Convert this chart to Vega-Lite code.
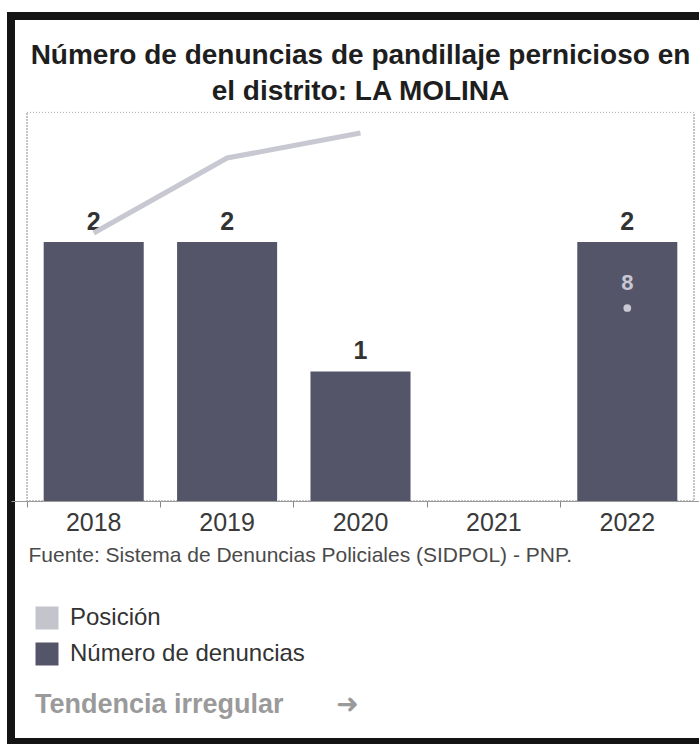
{
  "$schema": "https://vega.github.io/schema/vega-lite/v6.json",
  "autosize": "none",
  "width": 699,
  "height": 726,
  "padding": {"left": 11, "top": 16, "right": -11, "bottom": 2},
  "background": "white",
  "title": {
    "text": ["Número de denuncias de pandillaje pernicioso en", "el distrito: LA MOLINA"],
    "font": "Liberation Sans",
    "fontSize": 28,
    "fontWeight": "bold",
    "color": "#1e1e1e",
    "lineHeight": 36,
    "anchor": "middle",
    "frame": "group",
    "offset": -90
  },
  "config": {
    "font": "Liberation Sans",
    "view": {"stroke": "#141414", "strokeWidth": 8, "fill": "white"}
  },
  "data": {
    "values": [
      {"anio": "2018", "denuncias": 2, "posicion": 5},
      {"anio": "2019", "denuncias": 2, "posicion": 2},
      {"anio": "2020", "denuncias": 1, "posicion": 1},
      {"anio": "2021", "denuncias": null, "posicion": null},
      {"anio": "2022", "denuncias": 2, "posicion": 8}
    ]
  },
  "encoding": {
    "x": {
      "field": "anio",
      "type": "ordinal",
      "scale": {"domain": ["2018", "2019", "2020", "2021", "2022"], "paddingInner": 0, "paddingOuter": 0.12},
      "axis": {
        "title": "Fuente: Sistema de Denuncias Policiales (SIDPOL) - PNP.",
        "titleFont": "Liberation Sans",
        "titleFontSize": 21,
        "titleFontWeight": "normal",
        "titleColor": "#4a4a4a",
        "titleAnchor": "start",
        "titleAlign": "left",
        "titleX": 17,
        "titlePadding": 9,
        "labelAngle": 0,
        "labelFont": "Liberation Sans",
        "labelFontSize": 25,
        "labelColor": "#3a3a3a",
        "labelPadding": 3,
        "tickSize": 6,
        "tickColor": "#888888",
        "domainColor": "#999999",
        "bandPosition": 0,
        "offset": -241
      }
    }
  },
  "layer": [
    {
      "layer": [
        {
          "mark": {"type": "rect", "fill": "transparent", "stroke": "#b4b4b4", "strokeWidth": 1, "strokeDash": [1, 2]},
          "encoding": {
            "x": {"datum": "2018", "bandPosition": 0},
            "x2": {"datum": "2022", "bandPosition": 1},
            "y": {"datum": 3, "type": "quantitative", "scale": {"domain": [-1.861, 3.745], "nice": false, "zero": false}, "axis": null},
            "y2": {"datum": 0}
          }
        },
        {
          "mark": {"type": "bar", "width": {"band": 0.75}},
          "transform": [{"filter": "datum.denuncias != null"}],
          "encoding": {
            "y": {"field": "denuncias", "type": "quantitative", "scale": {"domain": [-1.861, 3.745], "nice": false, "zero": false}, "axis": null},
            "y2": {"datum": 0},
            "color": {
              "datum": "Número de denuncias",
              "scale": {"domain": ["Posición", "Número de denuncias"], "range": ["#c4c4cc", "#555569"]},
              "legend": {
                "title": "Tendencia irregular\u00a0\u00a0\u00a0\u00a0\u00a0\u00a0\u00a0➜",
                "orient": "bottom-left",
                "offset": 24,
                "padding": 0,
                "titleOrient": "bottom",
                "titleAnchor": "start",
                "titleFont": "Liberation Sans, DejaVu Sans",
                "titleFontSize": 27,
                "titleFontWeight": "bold",
                "titleColor": "#9a9a9a",
                "titlePadding": 26,
                "titleLimit": 600,
                "labelFont": "Liberation Sans",
                "labelFontSize": 24,
                "labelColor": "#333333",
                "labelLimit": 500,
                "labelOffset": 11,
                "symbolType": "square",
                "symbolSize": 529,
                "symbolStrokeWidth": 0,
                "rowPadding": 12
              }
            }
          }
        },
        {
          "mark": {"type": "text", "baseline": "alphabetic", "dy": -12, "fontSize": 25, "fontWeight": "bold", "color": "#333333"},
          "transform": [{"filter": "datum.denuncias != null"}],
          "encoding": {
            "y": {"field": "denuncias", "type": "quantitative", "scale": {"domain": [-1.861, 3.745], "nice": false, "zero": false}, "axis": null},
            "text": {"field": "denuncias", "type": "quantitative"}
          }
        }
      ]
    },
    {
      "layer": [
        {
          "mark": {"type": "line", "color": "#c8c8d2", "strokeWidth": 5},
          "transform": [{"filter": {"field": "anio", "oneOf": ["2018", "2019", "2020"]}}],
          "encoding": {
            "y": {"field": "posicion", "type": "quantitative", "scale": {"domain": [-3.68, 25.36], "reverse": true, "nice": false, "zero": false}, "axis": null}
          }
        },
        {
          "mark": {"type": "circle", "color": "#c8c8d4", "size": 60, "opacity": 1},
          "transform": [{"filter": {"field": "anio", "equal": "2022"}}],
          "encoding": {
            "y": {"field": "posicion", "type": "quantitative", "scale": {"domain": [-3.68, 25.36], "reverse": true, "nice": false, "zero": false}, "axis": null}
          }
        },
        {
          "mark": {"type": "text", "baseline": "alphabetic", "dy": -18, "fontSize": 22, "fontWeight": "bold", "color": "#c8c8d4"},
          "transform": [{"filter": {"field": "anio", "equal": "2022"}}],
          "encoding": {
            "y": {"field": "posicion", "type": "quantitative", "scale": {"domain": [-3.68, 25.36], "reverse": true, "nice": false, "zero": false}, "axis": null},
            "text": {"field": "posicion", "type": "quantitative"}
          }
        }
      ]
    }
  ],
  "resolve": {"scale": {"y": "independent"}}
}
